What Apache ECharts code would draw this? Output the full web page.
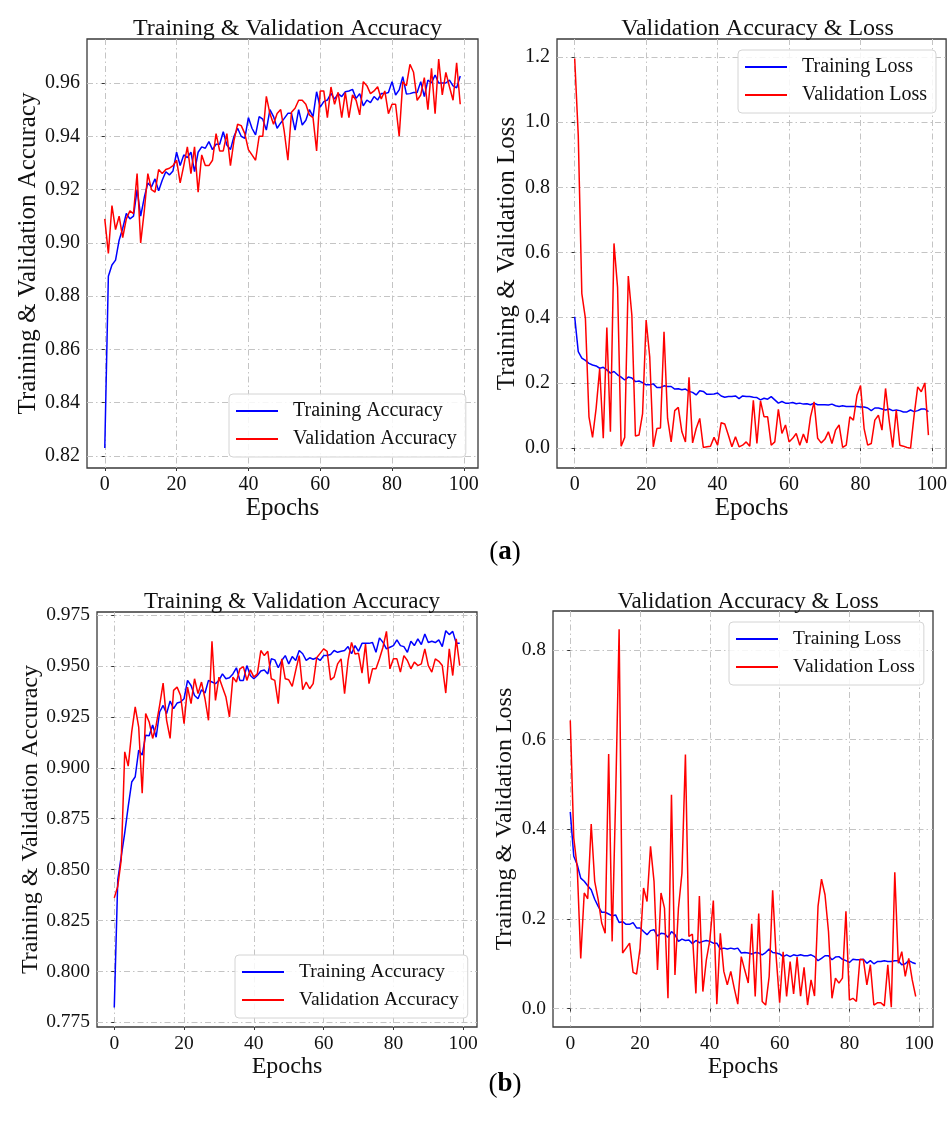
<!DOCTYPE html>
<html>
<head>
<meta charset="utf-8">
<script src="https://cdn.jsdelivr.net/npm/echarts@6/dist/echarts.min.js"></script>
<style>
html,body{margin:0;padding:0;background:#fff;}
#chart{width:950px;height:1126px;}
</style>
</head>
<body>
<div id="chart"></div>
<script>
// ---------- DATA ----------
const epochs = Array.from({length: 100}, (_, i) => i);
const xTicks = [0, 20, 40, 60, 80, 100];
const yTicksAccA = [0.82, 0.84, 0.86, 0.88, 0.90, 0.92, 0.94, 0.96];
const yTicksLossA = [0.0, 0.2, 0.4, 0.6, 0.8, 1.0, 1.2];
const yTicksAccB = [0.775, 0.800, 0.825, 0.850, 0.875, 0.900, 0.925, 0.950, 0.975];
const yTicksLossB = [0.0, 0.2, 0.4, 0.6, 0.8];

const accA_train = [
0.823,0.8875,0.8917,0.8935,0.901,0.9055,0.911,0.909,0.910,0.920,
0.910,0.917,0.9225,0.921,0.924,0.9195,0.9235,0.9267,0.9255,0.927,
0.934,0.929,0.933,0.932,0.934,0.9267,0.934,0.936,0.9355,0.938,
0.935,0.937,0.937,0.9417,0.9367,0.935,0.940,0.943,0.940,0.9392,
0.947,0.943,0.9405,0.9474,0.9464,0.9423,0.950,0.9474,0.943,0.945,
0.9467,0.9486,0.9486,0.9423,0.950,0.9442,0.946,0.950,0.9474,0.9567,
0.9509,0.953,0.9536,0.9561,0.9539,0.956,0.9549,0.9567,0.957,0.9576,
0.9542,0.956,0.9514,0.9536,0.9526,0.9549,0.9536,0.956,0.956,0.9564,
0.9605,0.9555,0.9574,0.9624,0.9559,0.956,0.9564,0.9564,0.9605,0.9549,
0.9611,0.960,0.963,0.960,0.960,0.960,0.9611,0.9589,0.9582,0.9626];
const accA_val = [
0.909,0.896,0.914,0.905,0.910,0.902,0.909,0.912,0.911,0.926,
0.900,0.912,0.926,0.920,0.919,0.9275,0.926,0.9275,0.928,0.929,
0.931,0.9225,0.929,0.936,0.926,0.936,0.919,0.933,0.929,0.929,
0.931,0.941,0.9345,0.9345,0.941,0.929,0.9385,0.9445,0.944,0.941,
0.935,0.933,0.931,0.940,0.940,0.955,0.9485,0.9445,0.9485,0.950,
0.9417,0.931,0.949,0.9505,0.9535,0.9535,0.952,0.948,0.947,0.9345,
0.957,0.957,0.947,0.9585,0.952,0.9565,0.947,0.9565,0.947,0.9555,
0.9535,0.948,0.9605,0.959,0.956,0.957,0.9586,0.954,0.957,0.9485,
0.952,0.952,0.940,0.9605,0.959,0.967,0.964,0.9535,0.9555,0.962,
0.950,0.9655,0.9485,0.969,0.9555,0.964,0.9586,0.9535,0.9676,0.952];
const lossA_train = [
0.403,0.296,0.276,0.269,0.260,0.255,0.252,0.245,0.248,0.240,
0.230,0.235,0.225,0.218,0.209,0.218,0.215,0.204,0.206,0.201,
0.194,0.194,0.197,0.186,0.186,0.191,0.189,0.189,0.181,0.182,
0.179,0.181,0.174,0.171,0.163,0.176,0.174,0.165,0.165,0.166,
0.169,0.160,0.156,0.158,0.158,0.160,0.152,0.160,0.158,0.158,
0.156,0.155,0.148,0.153,0.150,0.158,0.148,0.138,0.143,0.138,
0.138,0.140,0.136,0.138,0.135,0.136,0.133,0.138,0.133,0.133,
0.133,0.132,0.135,0.130,0.128,0.130,0.128,0.128,0.128,0.128,
0.126,0.126,0.123,0.115,0.123,0.123,0.120,0.117,0.120,0.115,
0.117,0.115,0.111,0.111,0.117,0.112,0.115,0.120,0.120,0.112];
const lossA_val = [
1.195,0.96,0.474,0.398,0.096,0.033,0.122,0.244,0.030,0.370,
0.050,0.628,0.493,0.006,0.033,0.528,0.408,0.037,0.040,0.106,
0.393,0.280,0.004,0.060,0.062,0.357,0.091,0.019,0.115,0.125,
0.050,0.019,0.217,0.016,0.060,0.091,0.002,0.004,0.006,0.033,
0.009,0.078,0.074,0.040,0.004,0.035,0.004,0.009,0.019,0.006,
0.147,0.014,0.145,0.096,0.096,0.009,0.019,0.119,0.045,0.071,
0.019,0.030,0.045,0.009,0.043,0.016,0.096,0.142,0.030,0.016,
0.027,0.050,0.014,0.055,0.071,0.002,0.009,0.096,0.086,0.162,
0.192,0.060,0.009,0.014,0.086,0.101,0.055,0.183,0.086,0.002,
0.117,0.009,0.006,0.002,0.000,0.101,0.188,0.173,0.200,0.040];
const accB_train = [
0.7823,0.845,0.8565,0.868,0.881,0.893,0.8956,0.9087,0.9062,0.916,
0.9157,0.921,0.915,0.9274,0.9306,0.9266,0.9328,0.929,0.9318,0.9323,
0.9339,0.9429,0.9404,0.9355,0.9339,0.9383,0.9367,0.9429,0.9421,0.9413,
0.9429,0.9461,0.9437,0.9442,0.9461,0.9491,0.9429,0.9429,0.9502,0.9453,
0.9437,0.9453,0.9475,0.948,0.9461,0.9535,0.953,0.9491,0.9527,0.9551,
0.951,0.9546,0.9527,0.9576,0.956,0.9527,0.954,0.9533,0.954,0.9527,
0.9551,0.9551,0.9556,0.9576,0.9567,0.9572,0.9576,0.9595,0.956,0.96,
0.9572,0.9611,0.9611,0.9611,0.9615,0.9567,0.9638,0.9616,0.9584,0.9592,
0.96,0.9628,0.96,0.9595,0.9567,0.9621,0.96,0.9633,0.9605,0.9657,
0.9615,0.9621,0.9615,0.9628,0.9595,0.9673,0.9654,0.967,0.9611,0.9611];
const accB_val = [
0.8361,0.8418,0.8549,0.9078,0.9008,0.9176,0.9299,0.92,0.8875,0.9266,
0.9225,0.9144,0.9209,0.9307,0.9416,0.9233,0.9144,0.938,0.9396,0.9355,
0.9217,0.9396,0.9315,0.9437,0.9364,0.9421,0.9339,0.9233,0.9621,0.9331,
0.9445,0.9396,0.9347,0.925,0.9445,0.9421,0.9486,0.9497,0.9429,0.9481,
0.9445,0.9461,0.9576,0.9551,0.9572,0.9437,0.9429,0.9315,0.9535,0.9437,
0.9432,0.94,0.9478,0.9551,0.9383,0.9421,0.9388,0.9413,0.954,0.9562,
0.9584,0.9572,0.9432,0.9445,0.951,0.9535,0.9364,0.9527,0.9616,0.9559,
0.9562,0.9465,0.9608,0.9413,0.9486,0.9486,0.9535,0.9592,0.967,0.9486,
0.9535,0.9535,0.947,0.9551,0.9527,0.9486,0.9519,0.9502,0.951,0.9584,
0.9502,0.947,0.9535,0.9523,0.9502,0.9367,0.9584,0.9453,0.9633,0.9502];
const lossB_train = [
0.439,0.340,0.321,0.291,0.284,0.274,0.265,0.244,0.228,0.215,
0.215,0.211,0.207,0.209,0.192,0.194,0.188,0.188,0.192,0.180,
0.180,0.172,0.165,0.174,0.176,0.162,0.168,0.167,0.159,0.172,
0.165,0.150,0.155,0.152,0.153,0.145,0.152,0.147,0.150,0.152,
0.150,0.146,0.146,0.133,0.135,0.133,0.135,0.133,0.135,0.124,
0.125,0.124,0.122,0.125,0.124,0.120,0.125,0.133,0.125,0.124,
0.122,0.116,0.120,0.116,0.120,0.118,0.120,0.118,0.118,0.120,
0.116,0.107,0.112,0.118,0.118,0.109,0.115,0.116,0.110,0.107,
0.103,0.110,0.109,0.109,0.110,0.101,0.107,0.100,0.105,0.105,
0.107,0.105,0.105,0.107,0.107,0.098,0.100,0.107,0.103,0.100];
const lossB_val = [
0.643,0.381,0.314,0.112,0.258,0.245,0.412,0.284,0.243,0.191,
0.168,0.568,0.150,0.470,0.846,0.124,0.135,0.146,0.081,0.077,
0.135,0.269,0.239,0.362,0.284,0.086,0.258,0.224,0.023,0.477,
0.075,0.224,0.302,0.567,0.161,0.166,0.034,0.251,0.038,0.109,
0.153,0.241,0.010,0.168,0.083,0.053,0.083,0.045,0.010,0.116,
0.086,0.057,0.189,0.027,0.212,0.016,0.008,0.072,0.264,0.116,
0.013,0.127,0.027,0.105,0.033,0.115,0.028,0.092,0.008,0.064,
0.028,0.228,0.289,0.254,0.172,0.023,0.068,0.057,0.068,0.217,
0.019,0.023,0.016,0.110,0.109,0.053,0.098,0.008,0.013,0.013,
0.006,0.098,0.003,0.304,0.101,0.127,0.072,0.112,0.064,0.027];

const titleAcc = 'Training & Validation Accuracy';
const titleLoss = 'Validation Accuracy & Loss';
const yNameAcc = 'Training & Validation Accuracy';
const yNameLoss = 'Training & Validation Loss';
const xName = 'Epochs';
const namesAcc = ['Training Accuracy', 'Validation Accuracy'];
const namesLoss = ['Training Loss', 'Validation Loss'];

// ---------- STYLE / LAYOUT ----------
const FONT = '"Liberation Serif", "DejaVu Serif", serif';
const BLUE = '#0000ff';
const RED = '#ff0000';
const GRIDLINE = {color: '#c4c4c4', width: 1, type: [6, 3, 1.5, 3]};

const panels = [
  {grid: {left: 87, top: 39, width: 391, height: 429}, xmin: -4.95, xmax: 103.95, ymin: 0.8155, ymax: 0.9765,
   yTicks: yTicksAccA, dec: 2, yName: yNameAcc, yGap: 46, fs: 20, nfs: 25, title: titleAcc, titleY: 12, tfs: 24,
   names: namesAcc, train: accA_train, val: accA_val, legend: {left: 229, top: 394}},
  {grid: {left: 557, top: 39, width: 391, height: 429}, xmin: -4.95, xmax: 103.95, ymin: -0.061, ymax: 1.255,
   yTicks: yTicksLossA, dec: 1, yName: yNameLoss, yGap: 37, fs: 20, nfs: 25, title: titleLoss, titleY: 12, tfs: 24,
   names: namesLoss, train: lossA_train, val: lossA_val, legend: {left: 738, top: 50}},
  {grid: {left: 97, top: 612, width: 380, height: 415}, xmin: -4.95, xmax: 103.95, ymin: 0.7727, ymax: 0.9765,
   yTicks: yTicksAccB, dec: 3, yName: yNameAcc, yGap: 53, fs: 19.5, nfs: 24, title: titleAcc, titleY: 585, tfs: 23,
   names: namesAcc, train: accB_train, val: accB_val, legend: {left: 235, top: 955}},
  {grid: {left: 553, top: 611, width: 380, height: 416}, xmin: -4.95, xmax: 103.95, ymin: -0.041, ymax: 0.887,
   yTicks: yTicksLossB, dec: 1, yName: yNameLoss, yGap: 36, fs: 19.5, nfs: 24, title: titleLoss, titleY: 585, tfs: 23,
   names: namesLoss, train: lossB_train, val: lossB_val, legend: {left: 729, top: 622}}
];

const option = {
  backgroundColor: '#ffffff',
  animation: false,
  grid: [], xAxis: [], yAxis: [], series: [], legend: [], title: []
};

panels.forEach((p, i) => {
  option.grid.push(Object.assign({show: true, borderColor: '#3a3a3a', borderWidth: 1.3, backgroundColor: 'transparent'}, p.grid));
  option.xAxis.push({
    type: 'value', gridIndex: i, min: p.xmin, max: p.xmax,
    name: xName, nameLocation: 'middle', nameGap: 27,
    nameTextStyle: {fontFamily: FONT, fontSize: p.nfs, color: '#111'},
    axisLine: {show: false},
    axisTick: {show: true, length: 3, inside: false, lineStyle: {color: '#333'}, customValues: xTicks},
    axisLabel: {customValues: xTicks, fontFamily: FONT, fontSize: p.fs, color: '#111', margin: 7,
      formatter: v => String(Math.round(v))},
    splitLine: {show: true, lineStyle: GRIDLINE}
  });
  option.yAxis.push({
    type: 'value', gridIndex: i, min: p.ymin, max: p.ymax,
    name: p.yName, nameLocation: 'middle', nameGap: p.yGap, nameRotate: 90,
    nameTextStyle: {fontFamily: FONT, fontSize: p.nfs, color: '#111'},
    axisLine: {show: false},
    axisTick: {show: true, length: 3, inside: false, lineStyle: {color: '#333'}, customValues: p.yTicks},
    axisLabel: {customValues: p.yTicks, fontFamily: FONT, fontSize: p.fs, color: '#111', margin: 7,
      formatter: v => v.toFixed(p.dec)},
    splitLine: {show: true, lineStyle: GRIDLINE}
  });
  [[p.names[0], p.train, BLUE], [p.names[1], p.val, RED]].forEach(([name, arr, col]) => {
    option.series.push({
      type: 'line', name: name, xAxisIndex: i, yAxisIndex: i,
      data: arr.map((v, k) => [epochs[k], v]),
      symbol: 'none', color: col,
      lineStyle: {color: col, width: 1.5},
      emphasis: {disabled: true}
    });
  });
  option.legend.push({
    orient: 'vertical', left: p.legend.left, top: p.legend.top,
    data: p.names, icon: 'rect', itemWidth: 42, itemHeight: 2, itemGap: 8,
    textStyle: {fontFamily: FONT, fontSize: p.fs, color: '#111', lineHeight: 20, padding: [0, 0, 0, 10]},
    backgroundColor: 'rgba(255,255,255,0.85)', borderColor: '#d4d4d4', borderWidth: 1, borderRadius: 4,
    padding: [7, 9, 8, 7], selectedMode: false
  });
  option.title.push({
    text: p.title, left: p.grid.left + p.grid.width / 2, top: p.titleY, textAlign: 'center',
    textStyle: {fontFamily: FONT, fontSize: p.tfs, fontWeight: 'normal', color: '#111'}
  });
});

// captions (a) and (b)
const captions = [{lbl: 'a', top: 534}, {lbl: 'b', top: 1066}];
captions.forEach(c => {
  option.title.push({
    text: '(' + '{b|' + c.lbl + '})', left: 500, top: c.top, textAlign: 'center',
    textStyle: {fontFamily: FONT, fontSize: 27, fontWeight: 'normal', color: '#000',
      rich: {b: {fontFamily: FONT, fontSize: 27, fontWeight: 'bold', color: '#000'}}}
  });
});

const chart = echarts.init(document.getElementById('chart'), null, {renderer: 'canvas'});
chart.setOption(option);
</script>
</body>
</html>
